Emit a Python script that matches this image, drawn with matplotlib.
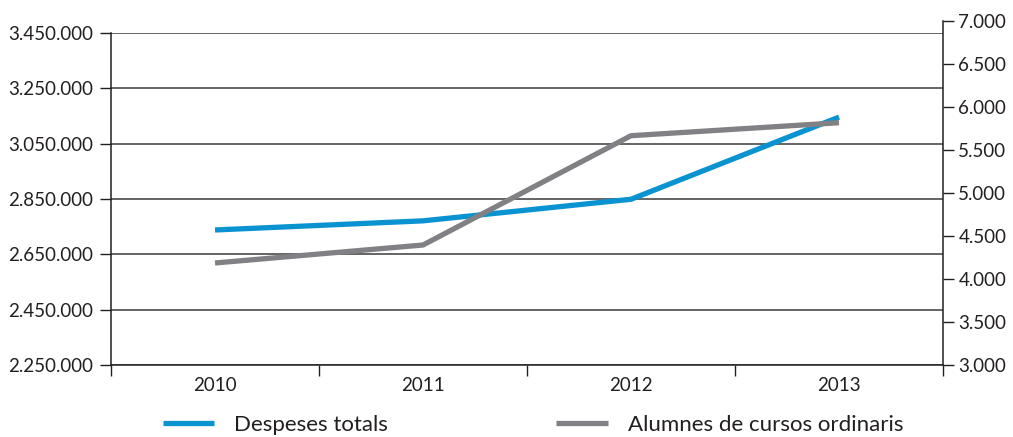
import matplotlib
matplotlib.use("Agg")
import matplotlib.pyplot as plt
from matplotlib.ticker import FuncFormatter

years = ["2010", "2011", "2012", "2013"]
despeses = [2738000, 2771000, 2849000, 3146000]
alumnes = [4186, 4395, 5666, 5817]
left_ticks = [2250000, 2450000, 2650000, 2850000, 3050000, 3250000, 3450000]
right_ticks = [3000, 3500, 4000, 4500, 5000, 5500, 6000, 6500, 7000]

BLUE = "#0a93d1"
GREY = "#818185"

plt.rcParams["font.family"] = ["Lato", "DejaVu Sans"]
plt.rcParams["text.color"] = "#231f20"
plt.rcParams["xtick.color"] = "#231f20"
plt.rcParams["ytick.color"] = "#231f20"


def thousands(v, pos):
	return f"{int(round(v)):,}".replace(",", ".")


fig = plt.figure(figsize=(10.13, 4.37), dpi=100)
ax = fig.add_axes([0.1096, 0.1648, 0.8213, 0.7597])
ax2 = fig.add_axes([0.1096, 0.1648, 0.8213, 0.7872])
ax2.patch.set_visible(False)

x = list(range(len(years)))

# left axis: despeses
ax.set_xlim(-0.5, len(years) - 0.5)
ax.set_ylim(left_ticks[0], left_ticks[-1])
ax.set_yticks(left_ticks)
ax.yaxis.set_major_formatter(FuncFormatter(thousands))
ax.yaxis.grid(True, color="#3a3a3a", linewidth=1.1)
ax.set_axisbelow(True)
ax.set_xticks([i - 0.5 for i in range(len(years) + 1)])
ax.set_xticklabels([])
ax.set_xticks(x, minor=True)
ax.set_xticklabels(years, minor=True)
ax.tick_params(axis="x", which="major", direction="out", length=8, width=1)
ax.tick_params(axis="x", which="minor", length=0, pad=9, labelsize=13.5)
ax.tick_params(axis="y", direction="out", length=8, width=1, labelsize=13.5, pad=5)
for s in ["top", "right"]:
	ax.spines[s].set_visible(False)
for s in ["left", "bottom"]:
	ax.spines[s].set_color("#231f20")
	ax.spines[s].set_linewidth(1.1)

l1, = ax.plot(x, despeses, color=BLUE, linewidth=3.8, solid_capstyle="butt", label="Despeses totals", zorder=3)

# right axis: alumnes
ax2.set_xlim(-0.5, len(years) - 0.5)
ax2.set_ylim(right_ticks[0], right_ticks[-1])
ax2.set_yticks(right_ticks)
ax2.yaxis.set_major_formatter(FuncFormatter(thousands))
ax2.yaxis.tick_right()
ax2.tick_params(axis="y", direction="out", length=8, width=1, labelsize=13.5, pad=3)
ax2.xaxis.set_visible(False)
for s in ["top", "left", "bottom"]:
	ax2.spines[s].set_visible(False)
ax2.spines["right"].set_color("#231f20")
ax2.spines["right"].set_linewidth(1.1)

l2, = ax2.plot(x, alumnes, color=GREY, linewidth=3.8, solid_capstyle="butt", label="Alumnes de cursos ordinaris", zorder=3)

fig.legend(handles=[l1, l2], loc="center", bbox_to_anchor=(0.526, 0.027), ncol=2,
	frameon=False, fontsize=16, handlelength=2.3, handletextpad=0.9,
	columnspacing=7.6)

fig.savefig("out.png", dpi=100)
